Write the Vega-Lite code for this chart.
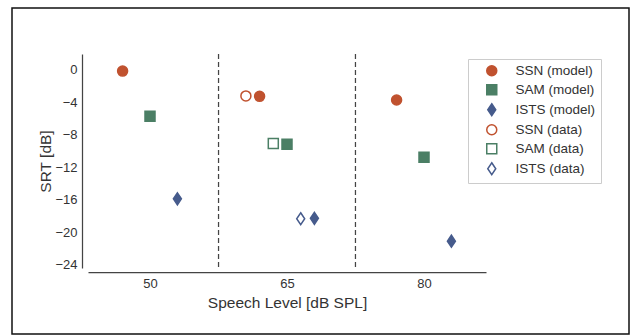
{
  "$schema": "https://vega.github.io/schema/vega-lite/v6.json",
  "autosize": "none",
  "padding": {"left": 12, "top": 8, "right": 4, "bottom": 1},
  "width": 617,
  "height": 326,
  "background": "white",
  "config": {
    "view": {"stroke": "#111", "strokeWidth": 1.5},
    "font": "Liberation Sans",
    "axis": {
      "grid": false,
      "ticks": false,
      "domainColor": "#444",
      "domainWidth": 1.25,
      "labelColor": "#333",
      "labelFont": "Liberation Sans",
      "labelFontSize": 13,
      "titleColor": "#333",
      "titleFont": "Liberation Sans",
      "titleFontSize": 15.5,
      "titleFontWeight": "normal"
    },
    "legend": {
      "orient": "none",
      "legendX": 456,
      "legendY": 51,
      "padding": 5,
      "strokeColor": "#cccccc",
      "fillColor": "white",
      "symbolSize": 100,
      "symbolStrokeWidth": 1.5,
      "symbolOffset": 12,
      "labelOffset": 17,
      "labelFont": "Liberation Sans",
      "labelFontSize": 13.5,
      "labelColor": "#333",
      "rowPadding": 2,
      "title": null
    }
  },
  "resolve": {"scale": {"x": "independent"}},
  "layer": [
    {
      "data": {"values": [{"boundary": 57.5}, {"boundary": 72.5}]},
      "mark": {"type": "rule", "color": "#444", "strokeWidth": 1.25, "strokeDash": [5, 3]},
      "encoding": {
        "x": {
          "field": "boundary",
          "type": "quantitative",
          "scale": {"domain": [43.2, 86.8], "range": [76, 474], "nice": false, "zero": false},
          "axis": {"values": [50, 65, 80], "offset": -62, "labelPadding": 5, "titlePadding": 5, "title": "Speech Level [dB SPL]"}
        },
        "y": {"datum": 1.9},
        "y2": {"datum": -24.4}
      }
    },
    {
      "data": {
        "values": [
          {"level": 50, "series": "SSN (model)", "srt": -0.2},
          {"level": 50, "series": "SAM (model)", "srt": -5.75},
          {"level": 50, "series": "ISTS (model)", "srt": -15.9},
          {"level": 65, "series": "SSN (data)", "srt": -3.25},
          {"level": 65, "series": "SSN (model)", "srt": -3.3},
          {"level": 65, "series": "SAM (data)", "srt": -9.1},
          {"level": 65, "series": "SAM (model)", "srt": -9.2},
          {"level": 65, "series": "ISTS (data)", "srt": -18.35},
          {"level": 65, "series": "ISTS (model)", "srt": -18.3},
          {"level": 80, "series": "SSN (model)", "srt": -3.75},
          {"level": 80, "series": "SAM (model)", "srt": -10.8},
          {"level": 80, "series": "ISTS (model)", "srt": -21.1}
        ]
      },
      "mark": {"type": "point", "size": 100, "strokeWidth": 1.5, "opacity": 1},
      "encoding": {
        "x": {
          "field": "level",
          "type": "ordinal",
          "scale": {"type": "point", "domain": [50, 65, 80], "range": [138, 412], "padding": 0},
          "axis": null
        },
        "xOffset": {
          "field": "series",
          "type": "nominal",
          "scale": {
            "type": "point",
            "domain": ["SSN (data)", "SSN (model)", "SAM (data)", "SAM (model)", "ISTS (data)", "ISTS (model)"],
            "range": [-41.1, 27.4],
            "padding": 0
          }
        },
        "y": {
          "field": "srt",
          "type": "quantitative",
          "scale": {"domain": [-24.4, 1.9], "range": [260, 46], "nice": false, "zero": false},
          "axis": {"values": [0, -4, -8, -12, -16, -20, -24], "offset": -70, "labelPadding": 5, "titlePadding": 1, "title": "SRT [dB]"}
        },
        "shape": {
          "field": "series",
          "type": "nominal",
          "scale": {
            "domain": ["SSN (model)", "SAM (model)", "ISTS (model)", "SSN (data)", "SAM (data)", "ISTS (data)"],
            "range": ["circle", "square", "M0,-1.2L0.8,0L0,1.2L-0.8,0Z", "circle", "square", "M0,-1.2L0.8,0L0,1.2L-0.8,0Z"]
          },
          "legend": {"title": null}
        },
        "stroke": {
          "field": "series",
          "type": "nominal",
          "scale": {
            "domain": ["SSN (model)", "SAM (model)", "ISTS (model)", "SSN (data)", "SAM (data)", "ISTS (data)"],
            "range": ["#c0522f", "#4b7f65", "#465b8c", "#c0522f", "#4b7f65", "#465b8c"]
          },
          "legend": {"title": null}
        },
        "fill": {
          "field": "series",
          "type": "nominal",
          "scale": {
            "domain": ["SSN (model)", "SAM (model)", "ISTS (model)", "SSN (data)", "SAM (data)", "ISTS (data)"],
            "range": ["#c0522f", "#4b7f65", "#465b8c", "#ffffff", "#ffffff", "#ffffff"]
          },
          "legend": {"title": null}
        }
      }
    }
  ]
}
